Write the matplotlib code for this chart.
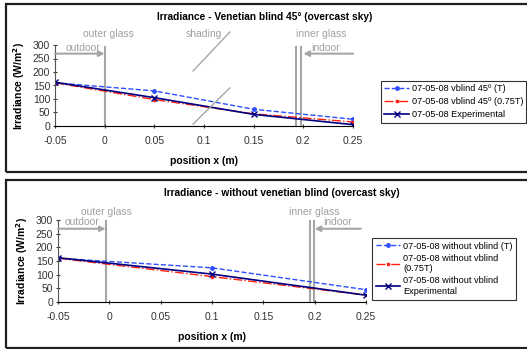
import matplotlib
matplotlib.use("Agg")
import matplotlib.pyplot as plt
from matplotlib.patches import Rectangle

plt.rcParams['font.family'] = ['Liberation Sans', 'DejaVu Sans']

# Venetian blind 45 deg panel
x_blind = [-0.05, 0.05, 0.15, 0.25]
blind_T = [160, 130, 62, 25]
blind_075T = [160, 98, 45, 15]
blind_exp = [162, 105, 43, 5]

# Without blind panel
x_noblind = [-0.05, 0.1, 0.25]
noblind_T = [160, 125, 45]
noblind_075T = [160, 93, 25]
noblind_exp = [162, 102, 25]

x_ticks = [-0.05, 0, 0.05, 0.1, 0.15, 0.2, 0.25]
x_ticklabels = ["-0.05", "0", "0.05", "0.1", "0.15", "0.2", "0.25"]
y_ticks = [0, 50, 100, 150, 200, 250, 300]

W, H = 527, 349
fig = plt.figure(figsize=(W / 100, H / 100), dpi=100)

GRAY = '#a6a6a6'
TXT_GRAY = '#a0a0a0'


def fx(px):
    return px / W


def fy(py):
    return 1 - py / H


# panel frames
for top, bot in [(4, 172), (180, 348)]:
    fig.patches.append(Rectangle((fx(6), fy(bot)), 1.2, fy(top) - fy(bot),
                                 transform=fig.transFigure, fill=False,
                                 edgecolor='#202020', lw=1.6))


def style_axes(ax):
    ax.set_xlim(-0.05, 0.25)
    ax.set_ylim(0, 300)
    ax.set_xticks(x_ticks)
    ax.set_xticklabels(x_ticklabels)
    ax.set_yticks(y_ticks)
    for s in ['top', 'right']:
        ax.spines[s].set_visible(False)
    ax.spines['left'].set_color('#555555')
    ax.spines['bottom'].set_color('black')
    ax.tick_params(axis='both', labelsize=7.5, length=3, width=0.8,
                   direction='inout', colors='#333333', pad=2)
    ax.tick_params(axis='x', pad=6)
    ax.set_ylabel("Irradiance (W/m$^\\mathbf{2}$)", fontsize=7.5, fontweight='bold', labelpad=4)
    ax.set_xlabel("position x (m)", fontsize=7.5, fontweight='bold', labelpad=7)


def arrow(ax, x0, x1, y):
    ax.annotate("", xy=(x1, y), xytext=(x0, y), annotation_clip=False,
                arrowprops=dict(arrowstyle='-|>', color=GRAY, lw=1.5,
                                mutation_scale=8, shrinkA=0, shrinkB=0))


# ---- top panel ----
ax1 = fig.add_axes([fx(55), fy(126), fx(353) - fx(55), fy(45) - fy(126)])
style_axes(ax1)
l1, = ax1.plot(x_blind, blind_T, color='#2f4fff', ls='--', lw=1, marker='o', ms=2.5)
l2, = ax1.plot(x_blind, blind_075T, color='#ff2010', ls='-.', lw=1, marker='s', ms=2)
l3, = ax1.plot(x_blind, blind_exp, color='#000080', ls='-', lw=1.2, marker='x', ms=5)

for xv in [0]:
    ax1.plot([xv, xv], [0, 292], color=GRAY, lw=1.5, clip_on=False, zorder=1)
for xv in [0.193, 0.198]:
    ax1.plot([xv, xv], [0, 292], color=GRAY, lw=1.5, clip_on=False, zorder=1)
ax1.plot([0.089, 0.126], [204, 348], color=GRAY, lw=1, clip_on=False)
ax1.plot([0.089, 0.126], [7, 141], color=GRAY, lw=1, clip_on=False)
arrow(ax1, -0.05, 0, 268)
arrow(ax1, 0.25, 0.2, 268)
ax1.text(0.004, 342, "outer glass", color=TXT_GRAY, fontsize=7.5, ha='center', va='center')
ax1.text(0.1, 340, "shading", color=TXT_GRAY, fontsize=7.5, ha='center', va='center')
ax1.text(0.218, 340, "inner glass", color=TXT_GRAY, fontsize=7.5, ha='center', va='center')
ax1.text(-0.022, 290, "outdoor", color=TXT_GRAY, fontsize=7.5, ha='center', va='center')
ax1.text(0.222, 290, "indoor", color=TXT_GRAY, fontsize=7.5, ha='center', va='center')
fig.text(fx(265), fy(17), "Irradiance - Venetian blind 45° (overcast sky)",
         fontsize=7.3, fontweight='bold', ha='center', va='center')

leg1 = fig.legend([l1, l2, l3],
                  ["07-05-08 vblind 45º (T)", "07-05-08 vblind 45º (0.75T)",
                   "07-05-08 Experimental"],
                  loc='upper left', bbox_to_anchor=(fx(381), fy(81)),
                  fontsize=6.6, frameon=True, fancybox=False, edgecolor='black',
                  handlelength=2.7, handletextpad=0.3, borderpad=0.35,
                  labelspacing=0.45, borderaxespad=0)
leg1.get_frame().set_linewidth(0.8)

# ---- bottom panel ----
ax2 = fig.add_axes([fx(58), fy(302), fx(366) - fx(58), fy(220) - fy(302)])
style_axes(ax2)
m1, = ax2.plot(x_noblind, noblind_T, color='#2f4fff', ls='--', lw=1, marker='o', ms=2.5)
m2, = ax2.plot(x_noblind, noblind_075T, color='#ff2010', ls='-.', lw=1, marker='s', ms=2)
m3, = ax2.plot(x_noblind, noblind_exp, color='#000080', ls='-', lw=1.2, marker='x', ms=5)

ax2.plot([-0.0035, -0.0035], [0, 295], color=GRAY, lw=1.5, clip_on=False, zorder=1)
for xv in [0.1955, 0.1994]:
    ax2.plot([xv, xv], [0, 295], color=GRAY, lw=1.5, clip_on=False, zorder=1)
arrow(ax2, -0.05, -0.0035, 268)
arrow(ax2, 0.245, 0.2, 268)
ax2.text(-0.003, 330, "outer glass", color=TXT_GRAY, fontsize=7.5, ha='center', va='center')
ax2.text(0.2, 330, "inner glass", color=TXT_GRAY, fontsize=7.5, ha='center', va='center')
ax2.text(-0.027, 292, "outdoor", color=TXT_GRAY, fontsize=7.5, ha='center', va='center')
ax2.text(0.222, 292, "indoor", color=TXT_GRAY, fontsize=7.5, ha='center', va='center')
fig.text(fx(282), fy(193), "Irradiance - without venetian blind (overcast sky)",
         fontsize=7.3, fontweight='bold', ha='center', va='center')

leg2 = fig.legend([m1, m2, m3],
                  ["07-05-08 without vblind (T)", "07-05-08 without vblind\n(0.75T)",
                   "07-05-08 without vblind\nExperimental"],
                  loc='upper left', bbox_to_anchor=(fx(372), fy(238)),
                  fontsize=6.6, frameon=True, fancybox=False, edgecolor='black',
                  handlelength=2.7, handletextpad=0.3, borderpad=0.4,
                  labelspacing=0.35, borderaxespad=0)
leg2.get_frame().set_linewidth(0.8)

fig.savefig("out.png", dpi=100)
